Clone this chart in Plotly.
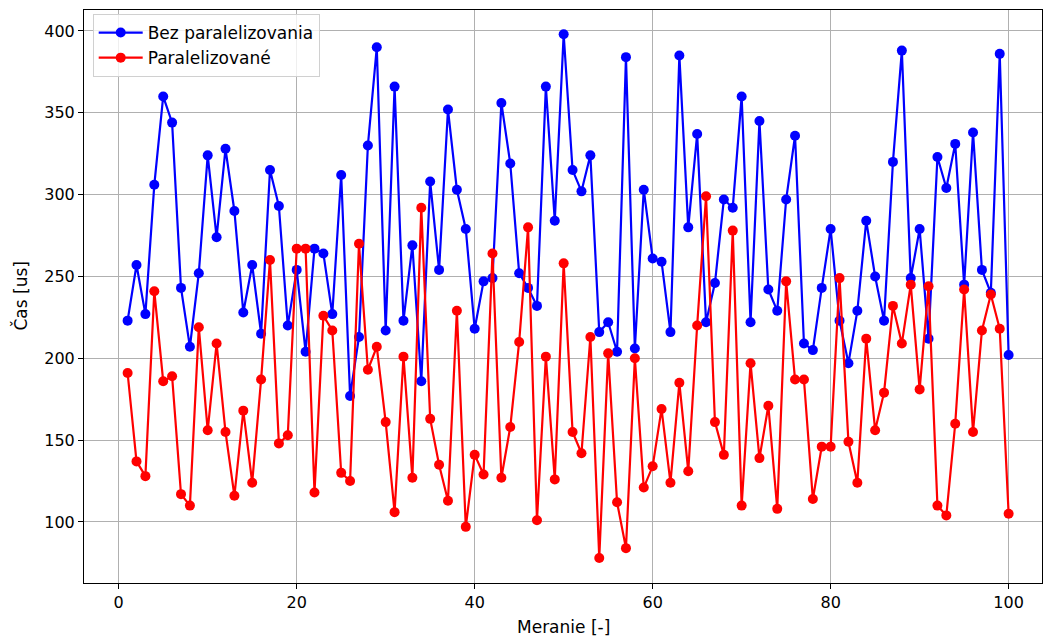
import plotly.graph_objects as go

meranie = list(range(1, 101))

bez_paralelizovania = [
    223, 257, 227, 306, 360, 344, 243, 207, 252, 324, 274, 328, 290, 228, 257, 215, 315, 293, 220, 254,
    204, 267, 264, 227, 312, 177, 213, 330, 390, 217, 366, 223, 269, 186, 308, 254, 352, 303, 279, 218,
    247, 249, 356, 319, 252, 243, 232, 366, 284, 398, 315, 302, 324, 216, 222, 204, 384, 206, 303, 261,
    259, 216, 385, 280, 337, 222, 246, 297, 292, 360, 222, 345, 242, 229, 297, 336, 209, 205, 243, 279,
    223, 197, 229, 284, 250, 223, 320, 388, 249, 279, 212, 323, 304, 331, 245, 338, 254, 240, 386, 202,
]

paralelizovane = [
    191, 137, 128, 241, 186, 189, 117, 110, 219, 156, 209, 155, 116, 168, 124, 187, 260, 148, 153, 267,
    267, 118, 226, 217, 130, 125, 270, 193, 207, 161, 106, 201, 127, 292, 163, 135, 113, 229, 97, 141,
    129, 264, 127, 158, 210, 280, 101, 201, 126, 258, 155, 142, 213, 78, 203, 112, 84, 200, 121, 134,
    169, 124, 185, 131, 220, 299, 161, 141, 278, 110, 197, 139, 171, 108, 247, 187, 187, 114, 146, 146,
    249, 149, 124, 212, 156, 179, 232, 209, 245, 181, 244, 110, 104, 160, 242, 155, 217, 239, 218, 105,
]

x_ticks = [0, 20, 40, 60, 80, 100]
y_ticks = [100, 150, 200, 250, 300, 350, 400]

FONT = "DejaVu Sans"
W, H = 1044, 638
L, R, T, B = 84, 2, 10, 55

fig = go.Figure()
fig.add_trace(go.Scatter(
    x=meranie, y=bez_paralelizovania, mode="lines+markers", name="Bez paralelizovania",
    line=dict(color="#0000ff", width=2.2), marker=dict(color="#0000ff", size=10),
))
fig.add_trace(go.Scatter(
    x=meranie, y=paralelizovane, mode="lines+markers", name="Paralelizované",
    line=dict(color="#ff0000", width=2.2), marker=dict(color="#ff0000", size=10),
))

axis_common = dict(
    showline=True, linecolor="black", linewidth=1, mirror=True,
    showgrid=True, gridcolor="#b0b0b0", gridwidth=1,
    ticks="outside", ticklen=5, tickcolor="black", tickwidth=1,
    zeroline=False, automargin=False,
    tickfont=dict(family=FONT, size=16, color="black"),
)

plot_w = W - L - R
plot_h = H - T - B

fig.update_layout(
    width=W, height=H,
    margin=dict(l=L, r=R, t=T, b=B, autoexpand=False),
    paper_bgcolor="white", plot_bgcolor="white",
    font=dict(family=FONT, size=17, color="black"),
    showlegend=True,
    legend=dict(
        x=(92.7 - L) / plot_w, y=1 - (14 - T) / plot_h, xanchor="left", yanchor="top",
        bgcolor="rgba(255,255,255,0.8)", bordercolor="#d0d0d0", borderwidth=1,
        font=dict(family=FONT, size=17, color="black"),
        tracegroupgap=0, itemwidth=44,
    ),
    xaxis=dict(range=[-3.9, 103.75], tickvals=x_ticks, **axis_common),
    yaxis=dict(range=[62.7, 412.8], tickvals=y_ticks, **axis_common),
    annotations=[
        dict(text="Meranie [-]", xref="paper", yref="paper",
             x=0.5, y=-(627 - (H - B)) / plot_h, xanchor="center", yanchor="middle",
             showarrow=False, font=dict(family=FONT, size=17, color="black")),
        dict(text="Čas [us]", xref="paper", yref="paper",
             x=-(L - 20) / plot_w, y=0.5, xanchor="center", yanchor="middle",
             textangle=-90, showarrow=False, font=dict(family=FONT, size=17, color="black")),
    ],
)

fig.write_html(
    "out.html",
    config={"displayModeBar": False},
    post_script="document.body.style.margin='0';document.body.style.padding='0';"
                "document.body.style.overflow='hidden';",
)
